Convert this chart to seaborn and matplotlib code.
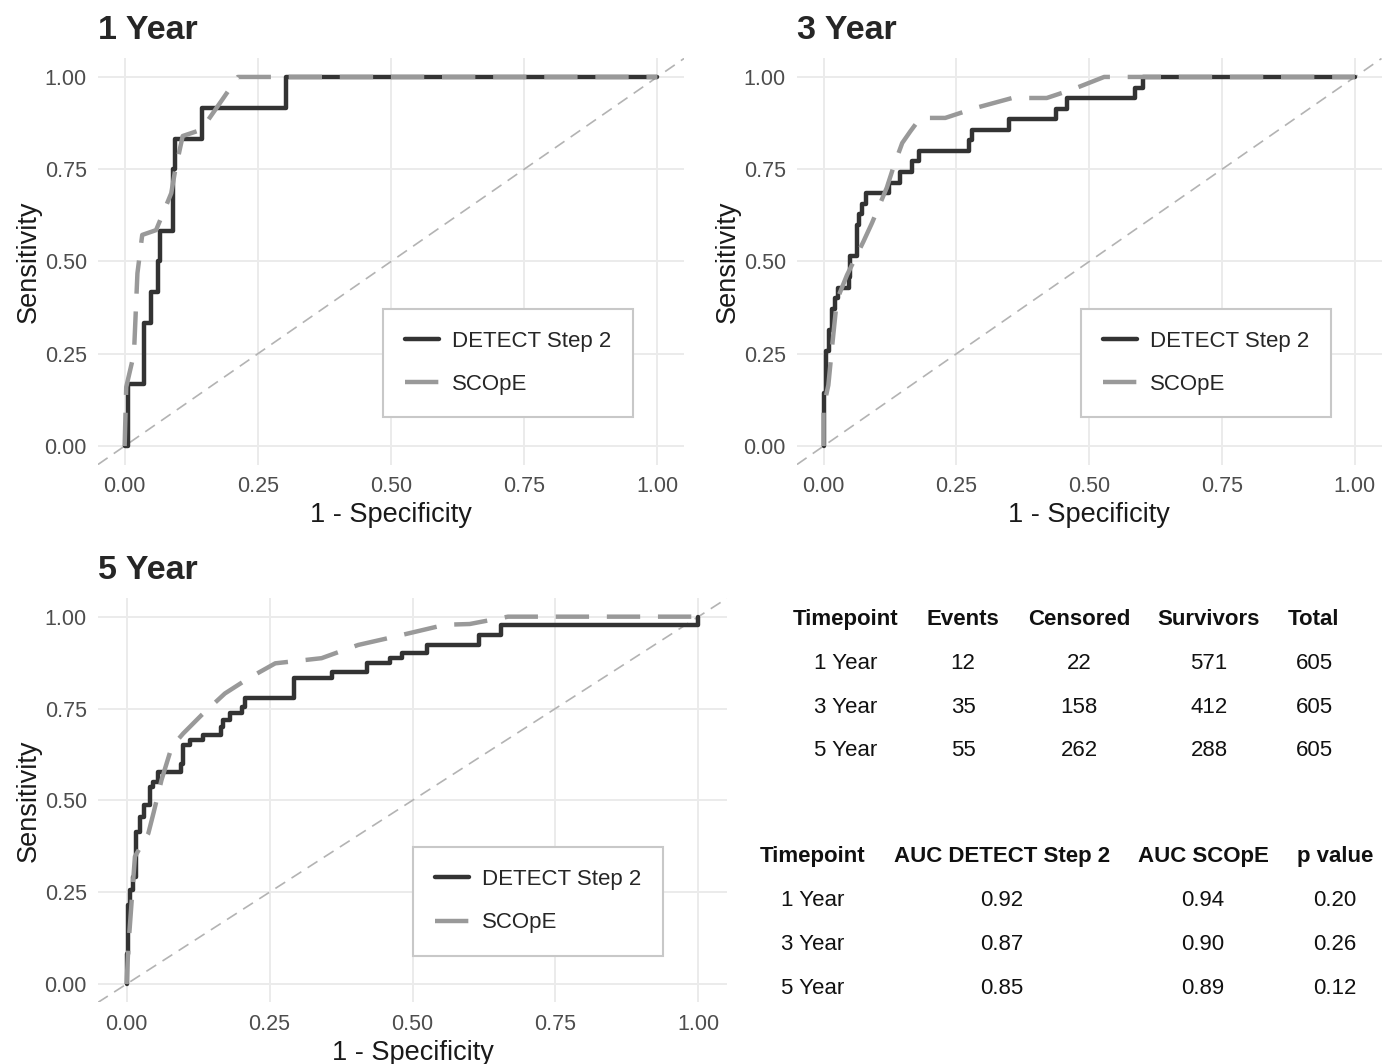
import pandas as pd
import seaborn as sns
import matplotlib.pyplot as plt

# ---------------- ROC data ----------------
# DETECT Step 2: step curves, points are (1 - specificity, sensitivity)
det_1y_fpr = [0.0, 0.006, 0.036, 0.049, 0.0625, 0.066, 0.090, 0.090, 0.094, 0.145, 0.303, 1.0]
det_1y_tpr = [0.0, 0.167, 0.333, 0.417, 0.500, 0.583, 0.667, 0.750, 0.833, 0.917, 1.000, 1.0]

det_3y_fpr = [0.0, 0.0, 0.004, 0.010, 0.016, 0.021, 0.028, 0.047, 0.050, 0.063, 0.066, 0.072,
              0.080, 0.123, 0.144, 0.166, 0.180, 0.273, 0.280, 0.349, 0.437, 0.458, 0.586,
              0.601, 1.0]
det_3y_tpr = [0.0, 0.143, 0.257, 0.314, 0.371, 0.400, 0.429, 0.457, 0.514, 0.600, 0.629, 0.657,
              0.686, 0.714, 0.743, 0.771, 0.800, 0.829, 0.857, 0.886, 0.914, 0.943, 0.971,
              1.000, 1.0]

det_5y_fpr = [0.0, 0.0, 0.003, 0.006, 0.012, 0.016, 0.023, 0.031, 0.041, 0.047, 0.055, 0.096,
              0.099, 0.111, 0.134, 0.165, 0.169, 0.181, 0.201, 0.207, 0.292, 0.360, 0.420,
              0.461, 0.481, 0.525, 0.617, 0.654, 1.0, 1.0]
det_5y_tpr = [0.0, 0.083, 0.215, 0.256, 0.292, 0.415, 0.455, 0.487, 0.537, 0.550, 0.578, 0.600,
              0.650, 0.664, 0.678, 0.700, 0.719, 0.737, 0.755, 0.778, 0.832, 0.850, 0.873,
              0.887, 0.902, 0.923, 0.950, 0.977, 0.977, 1.0]

# SCOpE: smoother curves
sc_1y_fpr = [0.0, 0.003, 0.0175, 0.024, 0.033, 0.059, 0.0875, 0.094, 0.109, 0.144, 0.184, 0.2125, 1.0]
sc_1y_tpr = [0.0, 0.160, 0.250, 0.468, 0.572, 0.585, 0.685, 0.740, 0.840, 0.857, 0.940, 1.000, 1.0]

sc_3y_fpr = [0.0, 0.0, 0.009, 0.016, 0.025, 0.044, 0.075, 0.091, 0.119, 0.132, 0.148, 0.163,
             0.182, 0.229, 0.286, 0.355, 0.420, 0.468, 0.528, 1.0]
sc_3y_tpr = [0.0, 0.106, 0.165, 0.269, 0.395, 0.463, 0.554, 0.604, 0.700, 0.758, 0.821, 0.852,
             0.889, 0.889, 0.916, 0.943, 0.943, 0.966, 1.000, 1.0]

sc_5y_fpr = [0.0, 0.003, 0.010, 0.0146, 0.038, 0.047, 0.061, 0.079, 0.099, 0.131, 0.172, 0.213,
             0.260, 0.341, 0.405, 0.470, 0.557, 0.600, 0.667, 1.0]
sc_5y_tpr = [0.0, 0.100, 0.250, 0.347, 0.410, 0.465, 0.555, 0.646, 0.682, 0.732, 0.791, 0.832,
             0.873, 0.887, 0.923, 0.946, 0.978, 0.980, 1.000, 1.0]

# ---------------- table data ----------------
timepoints = ["1 Year", "3 Year", "5 Year"]
events = [12, 35, 55]
censored = [22, 158, 262]
survivors = [571, 412, 288]
totals = [605, 605, 605]
auc_detect = [0.92, 0.87, 0.85]
auc_scope = [0.94, 0.90, 0.89]
p_values = [0.20, 0.26, 0.12]

# ---------------- style ----------------
W, H = 1391, 1064
sns.set_theme(style="whitegrid")
plt.rcParams['font.family'] = ['Liberation Sans', 'DejaVu Sans']

DET_COLOR = "#333333"
SC_COLOR = "#999999"
DIAG_COLOR = "#b3b3b3"

fig = plt.figure(figsize=(W / 100, H / 100), dpi=100)
fig.patch.set_facecolor("white")


def px_axes(left, top, right, bottom):
    return fig.add_axes([left / W, 1 - bottom / H, (right - left) / W, (bottom - top) / H])


def roc_panel(ax, title, det_fpr, det_tpr, sc_fpr, sc_tpr):
    ax.axline((0, 0), (1, 1), color=DIAG_COLOR, lw=1.2, linestyle=(0, (7, 4.5)), zorder=1)
    det = pd.DataFrame({"fpr": det_fpr, "tpr": det_tpr})
    sc = pd.DataFrame({"fpr": sc_fpr, "tpr": sc_tpr})
    sns.lineplot(data=det, x="fpr", y="tpr", ax=ax, color=DET_COLOR, lw=3.2,
                 drawstyle="steps-post", estimator=None, sort=False, label="DETECT Step 2")
    sns.lineplot(data=sc, x="fpr", y="tpr", ax=ax, color=SC_COLOR, lw=3.2,
                 linestyle=(0, (7.5, 4)), estimator=None, sort=False, label="SCOpE")

    ticks = [0, 0.25, 0.5, 0.75, 1.0]
    ax.set_xlim(-0.05, 1.05)
    ax.set_ylim(-0.05, 1.05)
    ax.set_xticks(ticks)
    ax.set_yticks(ticks)
    ax.set_xticklabels([f"{t:.2f}" for t in ticks])
    ax.set_yticklabels([f"{t:.2f}" for t in ticks])
    ax.tick_params(length=0, labelsize=15.5, labelcolor="#4d4d4d", pad=8)
    for s in ax.spines.values():
        s.set_visible(False)
    ax.set_facecolor("white")
    ax.grid(True, color="#ebebeb", lw=1.4)
    ax.set_axisbelow(True)
    ax.set_xlabel("1 - Specificity", fontsize=19.5, labelpad=4, color="#1a1a1a")
    ax.set_ylabel("Sensitivity", fontsize=19.5, labelpad=2, color="#1a1a1a")
    ax.set_title(title, loc="left", fontsize=24.5, fontweight="bold", pad=14)

    leg = ax.legend(loc="center", bbox_to_anchor=(0.70, 0.25), fontsize=16,
                    frameon=True, fancybox=False, framealpha=1, borderpad=1.0,
                    labelspacing=1.0, handlelength=1.5, handletextpad=0.6)
    leg.get_frame().set_edgecolor("#c8c8c8")
    leg.get_frame().set_linewidth(1.5)


ax1 = px_axes(98, 58.5, 684, 464.5)
roc_panel(ax1, "1 Year", det_1y_fpr, det_1y_tpr, sc_1y_fpr, sc_1y_tpr)

ax2 = px_axes(797, 58.5, 1381.5, 464.5)
roc_panel(ax2, "3 Year", det_3y_fpr, det_3y_tpr, sc_3y_fpr, sc_3y_tpr)

ax3 = px_axes(98, 598.3, 727, 1002.4)
roc_panel(ax3, "5 Year", det_5y_fpr, det_5y_tpr, sc_5y_fpr, sc_5y_tpr)


# ---------------- tables ----------------
def put(xp, yp, s, bold=False):
    fig.text(xp / W, 1 - (yp + 2.5) / H, s, ha="center", va="center", fontsize=16,
             fontweight="bold" if bold else "normal", color="#111111")


cols1 = [846, 963, 1079, 1209, 1314]
for xp, h in zip(cols1, ["Timepoint", "Events", "Censored", "Survivors", "Total"]):
    put(xp, 617, h, bold=True)
for i, yp in enumerate([661, 705, 748]):
    row = [timepoints[i], str(events[i]), str(censored[i]), str(survivors[i]), str(totals[i])]
    for xp, s in zip(cols1, row):
        put(xp, yp, s)

cols2 = [813, 1002, 1203, 1335]
for xp, h in zip(cols2, ["Timepoint", "AUC DETECT Step 2", "AUC SCOpE", "p value"]):
    put(xp, 854, h, bold=True)
for i, yp in enumerate([898, 942, 986]):
    row = [timepoints[i], f"{auc_detect[i]:.2f}", f"{auc_scope[i]:.2f}", f"{p_values[i]:.2f}"]
    for xp, s in zip(cols2, row):
        put(xp, yp, s)

fig.savefig("out.png", dpi=100, facecolor="white")
